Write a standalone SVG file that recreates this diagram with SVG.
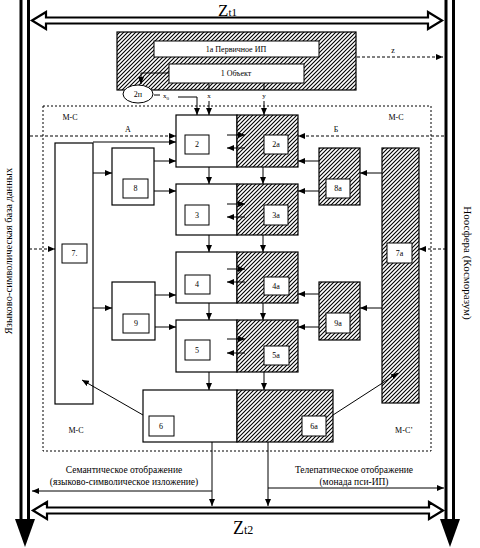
<svg xmlns="http://www.w3.org/2000/svg" width="480" height="548" viewBox="0 0 480 548">
<defs>
<pattern id="hatch" patternUnits="userSpaceOnUse" width="4" height="4">
<rect width="4" height="4" fill="#fff"/>
<path d="M-1,1 L1,-1 M0,4 L4,0 M3,5 L5,3" stroke="#000" stroke-width="1.1"/>
</pattern>
<marker id="ar" markerUnits="userSpaceOnUse" markerWidth="7" markerHeight="6" refX="7" refY="3" orient="auto">
<path d="M0,0 L7,3 L0,6 z" fill="#000"/>
</marker>
<style>
.t{font-family:"Liberation Serif","Times New Roman",serif;fill:#000}
.s{font-size:8px}
.m{font-size:9.5px}
.b{fill:#fff;stroke:#000;stroke-width:1.2}
.h{fill:url(#hatch);stroke:#000;stroke-width:1.2}
.w{fill:#fff;stroke:#000;stroke-width:1}
.c{fill:none;stroke:#000;stroke-width:1}
.d{fill:none;stroke:#000;stroke-width:1;stroke-dasharray:3,2}
.ar{marker-end:url(#ar)}
.big{fill:#fff;stroke:#000;stroke-width:2.2}
</style>
</defs>
<rect width="480" height="548" fill="#fff"/>

<g id="borders">
<line x1="21" y1="0" x2="21" y2="522" stroke="#000" stroke-width="3"/>
<line x1="28.5" y1="0" x2="28.5" y2="522" stroke="#000" stroke-width="3"/>
<path d="M15,519 L35,519 L25,547 z" fill="#000"/>
<line x1="446" y1="0" x2="446" y2="522" stroke="#000" stroke-width="3"/>
<line x1="453.5" y1="0" x2="453.5" y2="522" stroke="#000" stroke-width="3"/>
<path d="M440,519 L460,519 L450,547 z" fill="#000"/>
<text class="t" font-size="10.5" transform="translate(12,251) rotate(-90)" text-anchor="middle">Языково-символическая база данных</text>
<text class="t" font-size="11" transform="translate(464,263) rotate(90)" text-anchor="middle">Ноосфера  (Косморазум)</text>
</g>

<g id="zt1">
<path class="big" d="M32,20.5 L46,12 L46,17.5 L428,17.5 L428,12 L442,20.5 L428,29 L428,23.5 L46,23.5 L46,29 z"/>
<text class="t" x="218" y="16" font-size="17">Z<tspan font-size="11">t1</tspan></text>
</g>

<g id="zt2">
<path class="big" d="M33,510.5 L47,502 L47,507.5 L429,507.5 L429,502 L443,510.5 L429,519 L429,513.5 L47,513.5 L47,519 z"/>
<text class="t" x="233" y="534" font-size="18">Z<tspan font-size="12">t2</tspan></text>
</g>

<g id="region">
<rect x="43" y="106" width="388" height="345" fill="none" stroke="#000" stroke-width="1" stroke-dasharray="2,2"/>
<text class="t s" x="70" y="120" text-anchor="middle">М-С</text>
<text class="t s" x="396" y="120" text-anchor="middle">М-С</text>
<text class="t s" x="76" y="433" text-anchor="middle">М-С</text>
<text class="t s" x="404" y="433" text-anchor="middle">М-С’</text>
<text class="t s" x="128" y="132" text-anchor="middle">А</text>
<text class="t s" x="336" y="132" text-anchor="middle">Б</text>
</g>

<g id="n1a">
<rect class="h" x="117" y="32" width="239" height="58"/>
<rect class="w" x="154" y="41" width="165" height="16"/>
<text class="t s" x="236" y="52" text-anchor="middle">1а  Первичное ИП</text>
</g>
<g id="n1">
<rect class="w" x="169" y="64" width="135" height="19"/>
<text class="t s" x="236" y="76" text-anchor="middle">1   Объект</text>
</g>
<g id="n2p">
<ellipse class="w" cx="138" cy="94" rx="15" ry="9"/>
<text class="t s" x="138" y="97" text-anchor="middle">2п</text>
</g>

<g id="n2"><rect class="b" x="176" y="115" width="61" height="52"/><rect class="w" x="185" y="135" width="24" height="19"/><text class="t s" x="197" y="147" text-anchor="middle">2</text></g>
<g id="n2a"><rect class="h" x="237" y="115" width="61" height="52"/><rect class="w" x="264" y="135" width="24" height="19"/><text class="t s" x="276" y="147" text-anchor="middle">2а</text></g>
<g id="n3"><rect class="b" x="176" y="184" width="61" height="51"/><rect class="w" x="185" y="205" width="24" height="20"/><text class="t s" x="197" y="218" text-anchor="middle">3</text></g>
<g id="n3a"><rect class="h" x="237" y="184" width="61" height="51"/><rect class="w" x="264" y="205" width="24" height="20"/><text class="t s" x="276" y="218" text-anchor="middle">3а</text></g>
<g id="n4"><rect class="b" x="176" y="252" width="61" height="51"/><rect class="w" x="185" y="275" width="25" height="19"/><text class="t s" x="197" y="287" text-anchor="middle">4</text></g>
<g id="n4a"><rect class="h" x="237" y="252" width="61" height="51"/><rect class="w" x="264" y="277" width="25" height="18"/><text class="t s" x="276" y="289" text-anchor="middle">4а</text></g>
<g id="n5"><rect class="b" x="176" y="320" width="61" height="52"/><rect class="w" x="185" y="340" width="25" height="20"/><text class="t s" x="197" y="353" text-anchor="middle">5</text></g>
<g id="n5a"><rect class="h" x="237" y="320" width="61" height="52"/><rect class="w" x="264" y="346" width="25" height="19"/><text class="t s" x="276" y="358" text-anchor="middle">5а</text></g>
<g id="n6"><rect class="b" x="143" y="390" width="94" height="52"/><rect class="w" x="149" y="416" width="25" height="20"/><text class="t s" x="161" y="429" text-anchor="middle">6</text></g>
<g id="n6a"><rect class="h" x="237" y="390" width="96" height="52"/><rect class="w" x="302" y="416" width="24" height="20"/><text class="t s" x="314" y="429" text-anchor="middle">6а</text></g>
<g id="n7"><rect class="b" x="55" y="143" width="38" height="261"/><rect class="w" x="62" y="244" width="25" height="19"/><text class="t s" x="74.5" y="256" text-anchor="middle">7.</text></g>
<g id="n7a"><rect class="h" x="382" y="148" width="37" height="255"/><rect class="w" x="387" y="243" width="25" height="20"/><text class="t s" x="399.5" y="256" text-anchor="middle">7а</text></g>
<g id="n8"><rect class="b" x="112" y="148" width="42" height="57"/><rect class="w" x="123" y="179" width="25" height="19"/><text class="t s" x="135.5" y="191" text-anchor="middle">8</text></g>
<g id="n8a"><rect class="h" x="319" y="148" width="41" height="57"/><rect class="w" x="326" y="179" width="24" height="19"/><text class="t s" x="338" y="191" text-anchor="middle">8а</text></g>
<g id="n9"><rect class="b" x="112" y="282" width="43" height="58"/><rect class="w" x="123" y="314" width="26" height="19"/><text class="t s" x="136" y="326" text-anchor="middle">9</text></g>
<g id="n9a"><rect class="h" x="319" y="282" width="41" height="58"/><rect class="w" x="326" y="313" width="24" height="20"/><text class="t s" x="338" y="326" text-anchor="middle">9а</text></g>

<g id="connectors">
<path class="c ar" d="M169,73 H141 V84"/>
<path class="c" d="M154,95 H160"/>
<text class="t" font-size="7" x="163" y="98">x<tspan font-size="5" dy="1.5">0</tspan></text>
<path class="c ar" d="M178,97 H197 V115"/>
<path class="c" d="M209,84 V90"/>
<text class="t" font-size="7" x="209" y="98" text-anchor="middle">x</text>
<path class="c ar" d="M209,101 V115"/>
<path class="c" d="M264,84 V90"/>
<text class="t" font-size="7" x="264" y="98" text-anchor="middle">y</text>
<path class="c ar" d="M264,101 V115"/>
<path class="d ar" d="M357,57 H443"/>
<text class="t" font-size="8" x="393" y="53" text-anchor="middle">z</text>
<path class="d ar" d="M30,136 H176"/>
<path class="d ar" d="M444,136 H298"/>
<path class="c ar" d="M93,142 H176"/>
<path class="c ar" d="M93,173 H112"/>
<path class="c ar" d="M93,308 H112"/>
<path class="c ar" d="M154,161 H176"/>
<path class="c ar" d="M154,191 H176"/>
<path class="c ar" d="M155,295 H176"/>
<path class="c ar" d="M155,327 H176"/>
<path class="c ar" d="M319,161 H298"/>
<path class="c ar" d="M319,191 H298"/>
<path class="c ar" d="M319,294 H298"/>
<path class="c ar" d="M319,327 H298"/>
<path class="c ar" d="M382,173 H360"/>
<path class="c ar" d="M382,308 H360"/>
<path class="d ar" d="M29,249 H55"/>
<path class="d ar" d="M446,249 H419"/>
<path class="c ar" d="M209,167 V184"/>
<path class="c ar" d="M263,167 V184"/>
<path class="c ar" d="M209,235 V252"/>
<path class="c ar" d="M263,235 V252"/>
<path class="c ar" d="M209,303 V320"/>
<path class="c ar" d="M263,303 V320"/>
<path class="c ar" d="M209,372 V390"/>
<path class="c ar" d="M264,372 V390"/>
<path class="c ar" d="M227,135 H245"/>
<path class="c ar" d="M245,148 H227"/>
<path class="c ar" d="M227,204 H245"/>
<path class="c ar" d="M245,217 H227"/>
<path class="c ar" d="M227,269 H245"/>
<path class="c ar" d="M245,282 H227"/>
<path class="c ar" d="M227,339 H245"/>
<path class="c ar" d="M245,353 H227"/>
<path class="c ar" d="M212,442 V506"/>
<path class="c ar" d="M268,442 V506"/>
<path class="c ar" d="M143,415 L82,380"/>
<path class="c ar" d="M333,415 L398,373"/>
<path class="c ar" d="M212,491 H32"/>
<path class="c ar" d="M268,488 H444"/>
</g>

<g id="captions">
<text class="t m" x="124" y="473" text-anchor="middle">Семантическое отображение</text>
<text class="t m" x="124" y="485" text-anchor="middle">(языково-символическое изложение)</text>
<text class="t m" x="354" y="473" text-anchor="middle">Телепатическое отображение</text>
<text class="t m" x="354" y="485" text-anchor="middle">(монада пси-ИП)</text>
</g>
</svg>
